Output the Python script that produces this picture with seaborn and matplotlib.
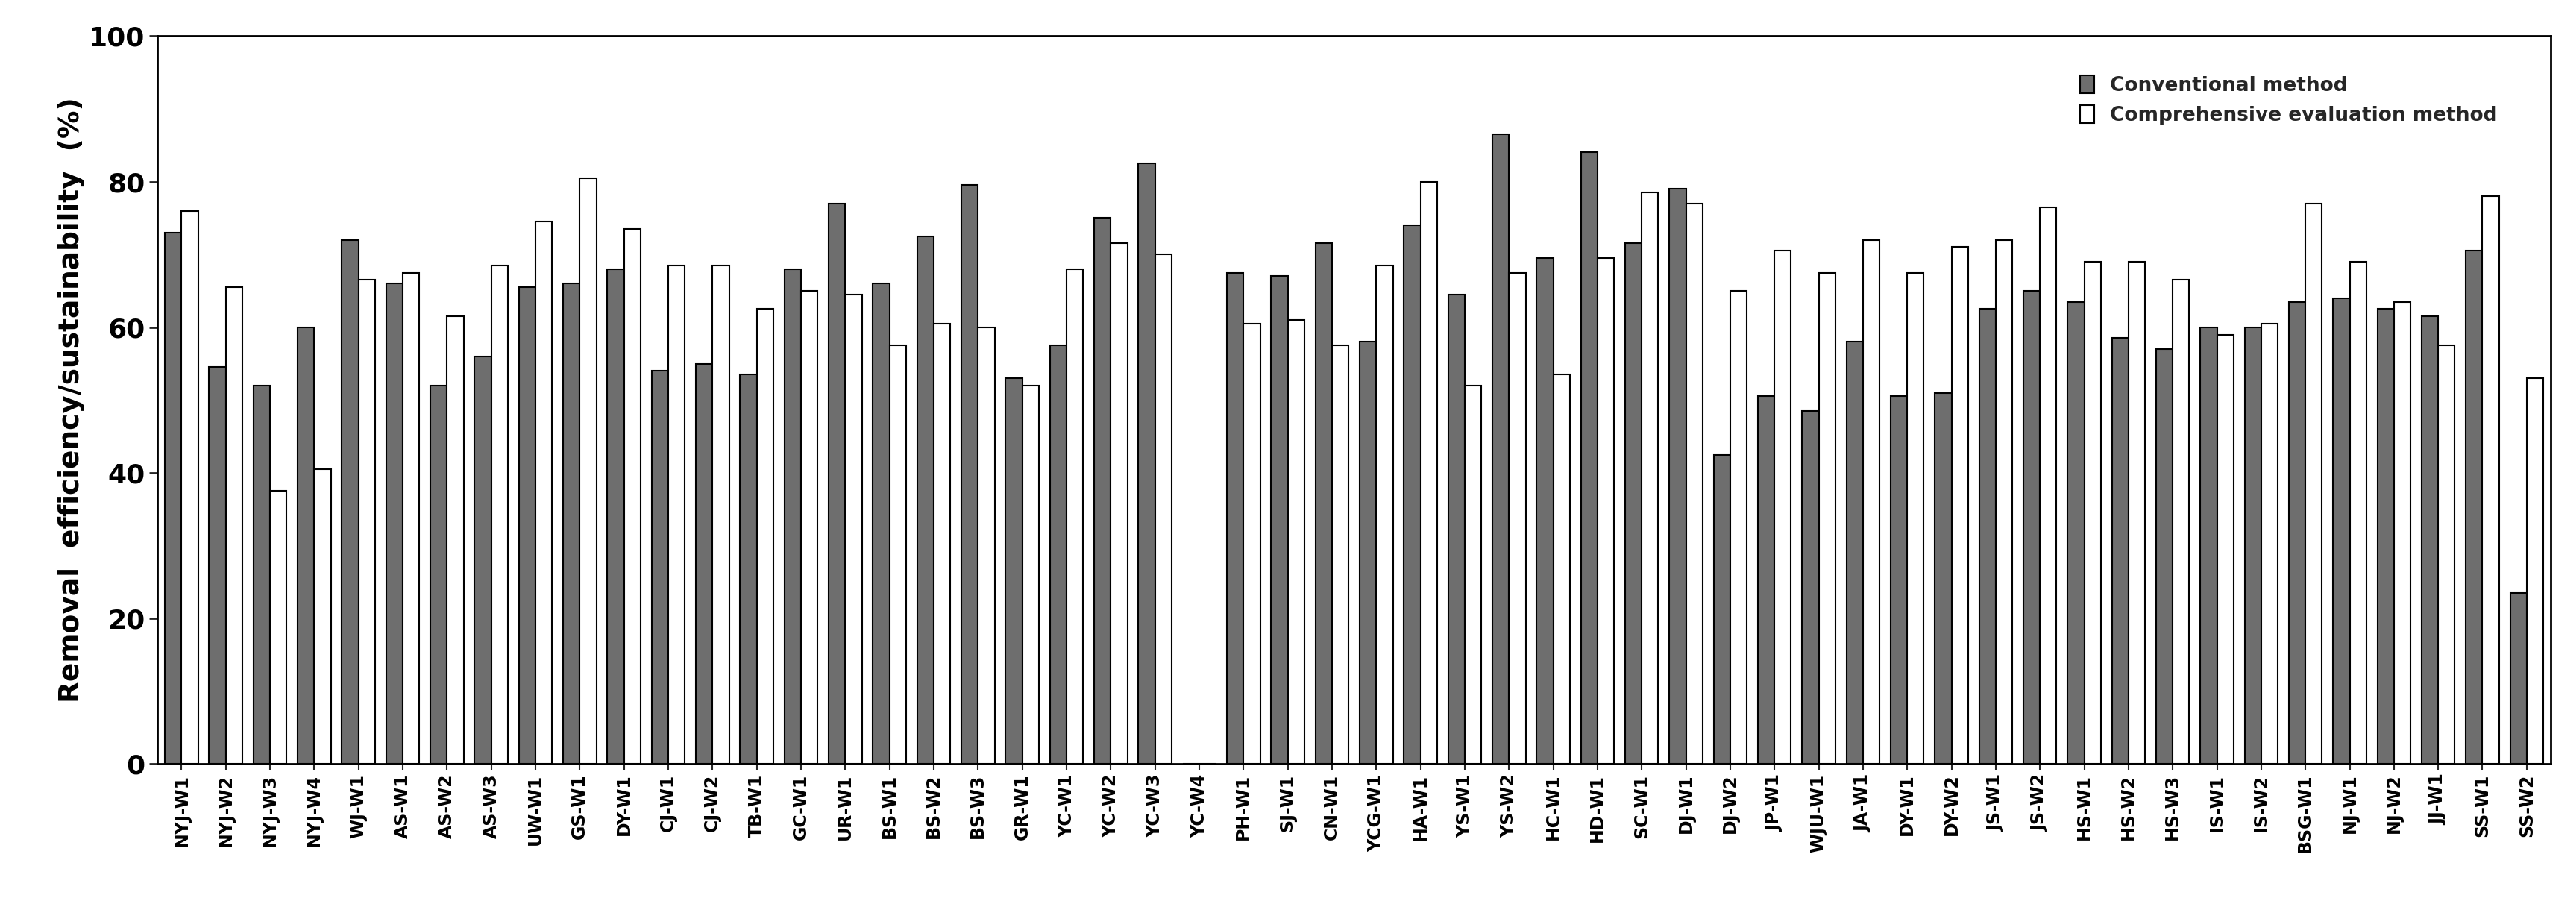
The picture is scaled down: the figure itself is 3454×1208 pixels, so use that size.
import matplotlib
matplotlib.use("Agg")
import matplotlib.pyplot as plt
import seaborn as sns
import pandas as pd

categories = ["NYJ-W1","NYJ-W2","NYJ-W3","NYJ-W4","WJ-W1","AS-W1","AS-W2","AS-W3","UW-W1","GS-W1",
 "DY-W1","CJ-W1","CJ-W2","TB-W1","GC-W1","UR-W1","BS-W1","BS-W2","BS-W3","GR-W1","YC-W1","YC-W2",
 "YC-W3","YC-W4","PH-W1","SJ-W1","CN-W1","YCG-W1","HA-W1","YS-W1","YS-W2","HC-W1","HD-W1","SC-W1",
 "DJ-W1","DJ-W2","JP-W1","WJU-W1","JA-W1","DY-W1","DY-W2","JS-W1","JS-W2","HS-W1","HS-W2","HS-W3",
 "IS-W1","IS-W2","BSG-W1","NJ-W1","NJ-W2","JJ-W1","SS-W1","SS-W2"]
conventional = [73,54.5,52,60,72,66,52,56,65.5,66,68,54,55,53.5,68,77,66,72.5,79.5,53,57.5,75,82.5,0,
 67.5,67,71.5,58,74,64.5,86.5,69.5,84,71.5,79,42.5,50.5,48.5,58,50.5,51,62.5,65,63.5,58.5,57,60,60,
 63.5,64,62.5,61.5,70.5,23.5]
comprehensive = [76,65.5,37.5,40.5,66.5,67.5,61.5,68.5,74.5,80.5,73.5,68.5,68.5,62.5,65,64.5,57.5,60.5,
 60,52,68,71.5,70,0,60.5,61,57.5,68.5,80,52,67.5,53.5,69.5,78.5,77,65,70.5,67.5,72,67.5,71,72,76.5,
 69,69,66.5,59,60.5,77,69,63.5,57.5,78,53]

n = len(categories)
df = pd.DataFrame({
    "idx": list(range(n)) * 2,
    "value": conventional + comprehensive,
    "method": ["Conventional method"] * n + ["Comprehensive evaluation method"] * n,
})

sns.set_style("white")
plt.rcParams['font.family'] = ['DejaVu Sans']
fig = plt.figure(figsize=(34.55, 12.08), dpi=100)
ax = fig.add_axes([0.061, 0.152, 0.929, 0.808])
sns.barplot(data=df, x="idx", y="value", hue="method",
            palette=["#6e6e6e", "#ffffff"], edgecolor="black", linewidth=1.5,
            width=0.75, ax=ax, saturation=1)
ax.set_xticks(range(n))
ax.set_xticklabels(categories, rotation=90, fontsize=17, fontweight="bold", color="black")
ax.set_xlim(-0.55, n - 0.45)
ax.set_ylim(0, 100)
ax.set_yticks([0, 20, 40, 60, 80, 100])
ax.tick_params(axis="y", labelsize=26, width=2, length=8, direction="out", left=True, labelcolor="black")
ax.tick_params(axis="x", bottom=True, length=6, width=1.5)
for t in ax.get_yticklabels():
    t.set_fontweight("bold")
ax.set_xlabel("")
ax.set_ylabel("Removal  efficiency/sustainability  (%)", fontsize=27, fontweight="bold", color="black")
for s in ax.spines.values():
    s.set_linewidth(2)
    s.set_color("black")
leg = ax.legend(loc="upper right", bbox_to_anchor=(0.985, 0.97), frameon=False,
                prop={"size": 19, "weight": "bold"}, handlelength=0.7, handleheight=1.0)
fig.savefig("out.png", dpi=100)
